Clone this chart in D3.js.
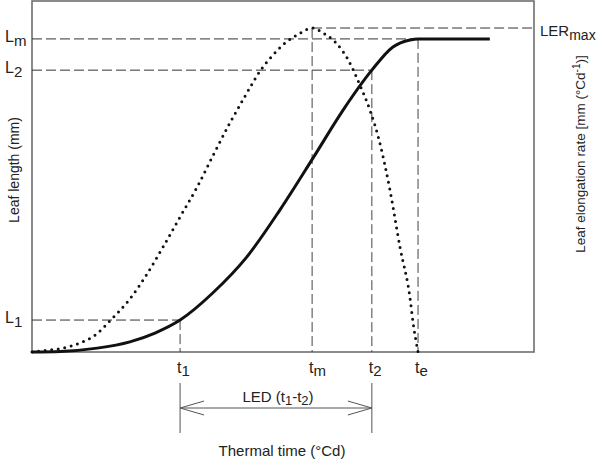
<!DOCTYPE html>
<html><head><meta charset="utf-8">
<script src="https://cdn.jsdelivr.net/npm/d3@7"></script>
<style>
body{margin:0;background:#fff}
svg{display:block}
text{font-family:"Liberation Sans",Arial,sans-serif;fill:#222}
</style>
</head><body>
<svg id="chart" width="600" height="460"></svg>
<script>
// ---- data (thermal time in arbitrary units 0..100) ----
const lengthTime   = [0, 5.6, 13, 19.5, 24.5, 29.5, 36, 42.8, 49.4, 56, 62, 67.7, 71.9, 75.3, 76.9, 91.2];
const lengthValues = [0, 0.15, 1.1, 2.9, 5.4, 9.1, 16.8, 27.1, 40.5, 55.3, 69, 80.3, 86.9, 88.9, 89.2, 89.2];
const lerTime   = [0, 3.6, 6.2, 9.6, 12.9, 15.5, 19.5, 22.9, 26.1, 29.5, 32.9, 36.1, 39.4, 42, 46, 48, 50.4, 52.8, 55.8, 58, 60.4, 63, 65.3, 67.3, 69.3, 71.3, 73.3, 75.3, 75.9, 76.9];
const lerValues = [0, 0.57, 1.14, 2.56, 5.13, 8.83, 15.1, 22.2, 29.9, 38.5, 47, 56.1, 65.2, 71.8, 81.2, 84.6, 88, 90.3, 92.3, 90.9, 88.3, 83.2, 76.1, 69, 59.5, 46.2, 29.9, 15.4, 8.5, 0];
const timeTickSubs   = ["1", "m", "2", "e"];
const timeTickValues = [29.5, 55.8, 67.7, 76.9];
const lengthTickSubs   = ["1", "2", "m"];
const lengthTickValues = [9.1, 80.3, 89.2];
const lerMaxValue = 92.3;
const xTitle = "Thermal time (°Cd)";
const yLeftTitle = "Leaf length (mm)";

// ---- layout ----
const svg = d3.select("#chart");
const L = 32, R = 534, T = 1, B = 352;
const x = d3.scaleLinear().domain([0, 100]).range([L, R]);
const yL = d3.scaleLinear().domain([0, 100]).range([B, T]);
const yR = d3.scaleLinear().domain([0, 100]).range([B, T]);

const dashCol = "#333";
const dash = "10,4";

// frame
svg.append("rect").attr("x", L).attr("y", T).attr("width", R - L).attr("height", B - T)
  .attr("fill", "none").attr("stroke", "#6e6e6e").attr("stroke-width", 1.6);

const [t1, tm, t2, te] = timeTickValues;
const [L1, L2, Lm] = lengthTickValues;

// horizontal reference lines
const hLines = [
  {y: yL(Lm), x0: x(0), x1: x(te)},
  {y: yL(L2), x0: x(0), x1: x(t2)},
  {y: yL(L1), x0: x(0), x1: x(t1)},
  {y: yR(lerMaxValue), x0: x(tm), x1: x(100)}
];
svg.selectAll(".hl").data(hLines).join("line").attr("class", "hl")
  .attr("x1", d => d.x0).attr("x2", d => d.x1).attr("y1", d => d.y).attr("y2", d => d.y)
  .attr("stroke", dashCol).attr("stroke-width", 1).attr("stroke-dasharray", dash);

// vertical reference lines
const vLines = [
  {x: x(t1), y0: yL(L1)},
  {x: x(tm), y0: yR(lerMaxValue)},
  {x: x(t2), y0: yL(L2)},
  {x: x(te), y0: yL(Lm)}
];
svg.selectAll(".vl").data(vLines).join("line").attr("class", "vl")
  .attr("x1", d => d.x).attr("x2", d => d.x).attr("y1", d => d.y0).attr("y2", B)
  .attr("stroke", "#444").attr("stroke-width", 1).attr("stroke-dasharray", dash);

// LER dotted curve
const lerData = lerTime.map((t, i) => [t, lerValues[i]]);
svg.append("path").datum(lerData)
  .attr("d", d3.line().x(d => x(d[0])).y(d => yR(d[1])).curve(d3.curveMonotoneX))
  .attr("fill", "none").attr("stroke", "#111").attr("stroke-width", 3)
  .attr("stroke-linecap", "round").attr("stroke-dasharray", "0,6.6");

// leaf length solid curve
const lenData = lengthTime.map((t, i) => [t, lengthValues[i]]);
svg.append("path").datum(lenData)
  .attr("d", d3.line().x(d => x(d[0])).y(d => yL(d[1])).curve(d3.curveMonotoneX))
  .attr("fill", "none").attr("stroke", "#111").attr("stroke-width", 3);

// bottom tick labels
const tl = svg.selectAll(".tlab").data(timeTickValues).join("text").attr("class", "tlab")
  .attr("x", d => x(d) - 3).attr("y", 373).attr("font-size", 16);
tl.append("tspan").text("t");
tl.append("tspan").attr("dy", 3).attr("font-size", 15).text((d, i) => timeTickSubs[i]);

// left tick labels
const ll = svg.selectAll(".llab").data(lengthTickValues).join("text").attr("class", "llab")
  .attr("x", 5).attr("y", d => yL(d) + 3).attr("font-size", 16);
ll.append("tspan").text("L");
ll.append("tspan").attr("dy", 4).attr("font-size", 15).text((d, i) => lengthTickSubs[i]);

// LER max label
const lm = svg.append("text").attr("x", 540).attr("y", yR(lerMaxValue) + 8).attr("font-size", 15);
lm.append("tspan").text("LER");
lm.append("tspan").attr("dy", 4).attr("font-size", 14).text("max");

// LED arrow
const ax0 = x(t1), ax1 = x(t2), ay = 408;
svg.selectAll(".led").data([ax0, ax1]).join("line").attr("class", "led")
  .attr("x1", d => d).attr("x2", d => d).attr("y1", 383).attr("y2", 433)
  .attr("stroke", "#555").attr("stroke-width", 1);
svg.append("line").attr("x1", ax0).attr("x2", ax1).attr("y1", ay).attr("y2", ay)
  .attr("stroke", "#555").attr("stroke-width", 1);
svg.append("path").attr("d", `M${ax0 + 24},${ay - 7}L${ax0},${ay}L${ax0 + 24},${ay + 7}M${ax1 - 24},${ay - 7}L${ax1},${ay}L${ax1 - 24},${ay + 7}`)
  .attr("fill", "none").attr("stroke", "#555").attr("stroke-width", 1);
const led = svg.append("text").attr("x", (ax0 + ax1) / 2 + 2).attr("y", 402)
  .attr("text-anchor", "middle").attr("font-size", 15);
led.append("tspan").text("LED (t");
led.append("tspan").attr("dy", 3).attr("font-size", 13).text("1");
led.append("tspan").attr("dy", -3).text("-t");
led.append("tspan").attr("dy", 3).attr("font-size", 13).text("2");
led.append("tspan").attr("dy", -3).text(")");

// axis titles
svg.append("text").attr("x", 282).attr("y", 456).attr("text-anchor", "middle")
  .attr("font-size", 15).text(xTitle);
svg.append("text").attr("transform", "translate(19,170) rotate(-90)").attr("text-anchor", "middle")
  .attr("font-size", 14).text(yLeftTitle);
const rt = svg.append("text").attr("transform", "translate(585,154) rotate(-90)")
  .attr("text-anchor", "middle").attr("font-size", 13.5);
rt.append("tspan").text("Leaf elongation rate [mm (°Cd");
rt.append("tspan").attr("dy", -5).attr("font-size", 10).text("-1");
rt.append("tspan").attr("dy", 5).text(")]");
</script>
</body></html>
